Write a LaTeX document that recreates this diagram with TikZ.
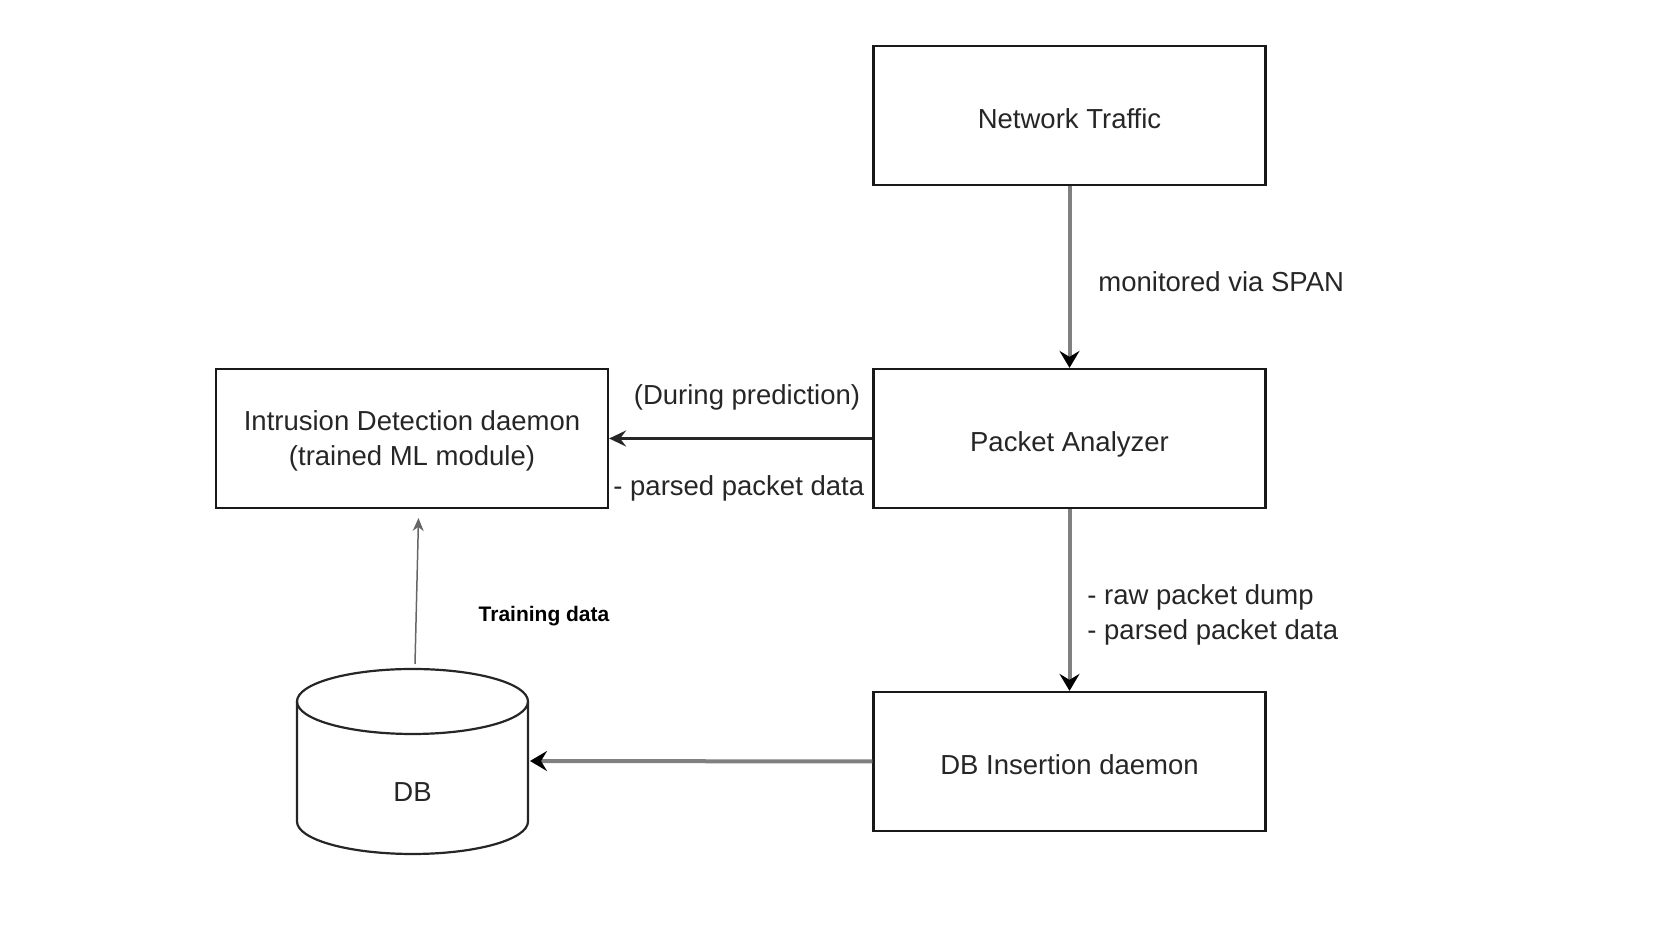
\documentclass[tikz,border=0pt]{standalone}
\usepackage{fontspec}
\setmainfont{Liberation Sans}
\usetikzlibrary{positioning,arrows.meta}

\begin{document}
\begin{tikzpicture}[x=0.5pt,y=0.5pt,
        box/.style={draw=black!90,line width=1.1pt,minimum width=196pt,minimum height=69.5pt,inner sep=0pt,align=center,text=black!85,text depth=0pt,font=\fontsize{13.75}{17.5}\selectfont},
        onebox/.style={box,text height=13.5pt},
        lbl/.style={inner sep=0pt,text=black!85,font=\fontsize{13.75}{17.5}\selectfont},
        feed/.style={draw=black!50,line width=2pt,-{Stealth[length=8.5pt,width=10pt,inset=3pt,color=black]}},
        pass/.style={draw=black!85,line width=1.5pt,-{Stealth[length=8.5pt,width=8pt,inset=3pt]}},
        thin/.style={draw=black!60,line width=0.75pt,-{Stealth[length=6.5pt,width=5.5pt,inset=2pt]}}]
    \useasboundingbox (0,0) rectangle (1661,931);

    % boxes
    \node[onebox] (nt)  at (1069.5,815.5) {Network Traffic};
    \node[onebox] (pa)  at (1069.5,492.5) {Packet Analyzer};
    \node[box]    (ids) at (412,492.5)    {Intrusion Detection daemon\\(trained ML module)};
    \node[onebox] (dbi) at (1069.5,169.5) {DB Insertion daemon};

    % database
    \draw[draw=black!85,line width=1.1pt,fill=white] (297,229.5) -- (297,109.5) arc[start angle=180,end angle=360,x radius=115.5,y radius=32.5] -- (528,229.5);
    \draw[draw=black!85,line width=1.1pt] (412.5,229.5) ellipse[x radius=115.5,y radius=32.5];
    \node[lbl] (db) at (412.5,139) {DB};
    \coordinate (dbside) at (530,170);
    \coordinate (dbtop) at (415,267);
    \coordinate (idsbelow) at (418.5,413);

    % connectors
    \draw[feed] (nt.south) -- (pa.north);
    \draw[feed] (pa.south) -- (dbi.north);
    \draw[pass] (pa.west) -- (ids.east);
    \draw[feed] (dbi.west) -- (dbside);
    \draw[thin] (dbtop) -- (idsbelow);

    % labels
    \node[lbl,anchor=west] (span) at (1098,649) {monitored via SPAN};
    \node[lbl] (pred) at (747,534) {(During prediction)};
    \node[lbl,anchor=west] (parsed) at (613,443) {- parsed packet data};
    \node[lbl,anchor=west,align=left] (dump) at (1087,316.5) {- raw packet dump\\- parsed packet data};
    \node[inner sep=0pt,font=\bfseries\fontsize{10.5}{12.6}\selectfont] (train) at (544,315) {Training data};
\end{tikzpicture}
\end{document}
